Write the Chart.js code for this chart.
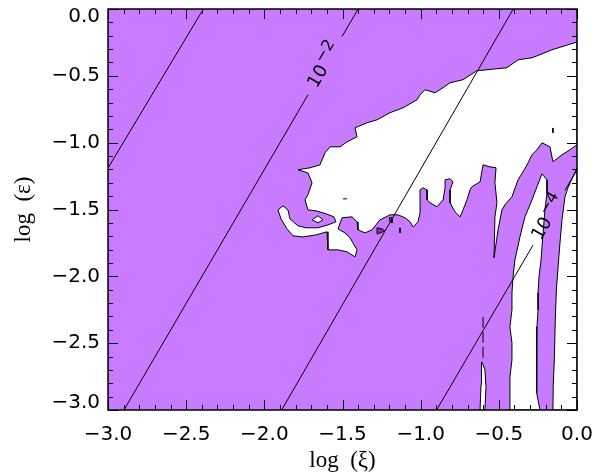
<!DOCTYPE html>
<html>
<head>
<meta charset="utf-8">
<script src="https://cdn.jsdelivr.net/npm/chart.js@4.4.1/dist/chart.umd.min.js"></script>
<style>
  html, body { margin: 0; padding: 0; background: #fff; }
</style>
</head>
<body>
<canvas id="c" width="595" height="476"></canvas>
<script>
// axis ticks
const xMajor = [-3.0, -2.5, -2.0, -1.5, -1.0, -0.5, 0.0];
const xLabels = ['\u22123.0', '\u22122.5', '\u22122.0', '\u22121.5', '\u22121.0', '\u22120.5', '0.0'];
const yMajor = [0.0, -0.5, -1.0, -1.5, -2.0, -2.5, -3.0];
const yLabels = ['0.0', '\u22120.5', '\u22121.0', '\u22121.5', '\u22122.0', '\u22122.5', '\u22123.0'];

// filled level (purple) covers the whole domain
const fullArea = [[-3, -3], [-3, 0], [0, 0], [0, -3]];

// white regions (below level), [log xi, log eps]
const whiteMain = [
  [0, -0.245], [-0.013, -0.252], [-0.160, -0.305], [-0.237, -0.342], [-0.288, -0.365], [-0.377, -0.380],
  [-0.448, -0.439], [-0.512, -0.447], [-0.640, -0.462], [-0.729, -0.529], [-0.812, -0.552], [-0.857, -0.589],
  [-0.908, -0.627], [-0.972, -0.604], [-1.004, -0.642], [-1.023, -0.679], [-1.113, -0.739], [-1.196, -0.776],
  [-1.279, -0.829], [-1.343, -0.851], [-1.420, -0.889], [-1.407, -0.956], [-1.471, -0.994], [-1.516, -1.031],
  [-1.580, -1.031], [-1.612, -1.076], [-1.644, -1.166], [-1.708, -1.188], [-1.785, -1.203], [-1.721, -1.226],
  [-1.695, -1.300], [-1.721, -1.390], [-1.740, -1.427], [-1.721, -1.503],
  [-1.670, -1.510], [-1.606, -1.532], [-1.555, -1.555], [-1.542, -1.592], [-1.593, -1.615], [-1.657, -1.637],
  [-1.734, -1.637], [-1.785, -1.622],
  [-1.836, -1.570], [-1.849, -1.503], [-1.881, -1.473], [-1.913, -1.503], [-1.893, -1.570], [-1.855, -1.645],
  [-1.817, -1.697], [-1.753, -1.705], [-1.670, -1.690], [-1.599, -1.667], [-1.593, -1.735], [-1.593, -1.802],
  [-1.529, -1.802], [-1.471, -1.817], [-1.420, -1.854], [-1.407, -1.802], [-1.452, -1.712], [-1.484, -1.675],
  [-1.529, -1.645], [-1.503, -1.562], [-1.439, -1.555], [-1.407, -1.592], [-1.401, -1.652], [-1.356, -1.675],
  [-1.311, -1.652], [-1.260, -1.577], [-1.196, -1.540], [-1.145, -1.540], [-1.100, -1.562], [-1.068, -1.592],
  [-1.049, -1.630], [-1.017, -1.592], [-1.004, -1.525], [-1.004, -1.353], [-0.985, -1.338], [-0.959, -1.353],
  [-0.959, -1.428], [-0.940, -1.450], [-0.895, -1.480], [-0.857, -1.428], [-0.844, -1.338], [-0.844, -1.278],
  [-0.812, -1.270], [-0.793, -1.293], [-0.812, -1.353], [-0.812, -1.450], [-0.780, -1.518], [-0.748, -1.555],
  [-0.729, -1.503], [-0.704, -1.428], [-0.684, -1.353], [-0.672, -1.330], [-0.620, -1.293], [-0.601, -1.166],
  [-0.557, -1.181], [-0.518, -1.188], [-0.525, -1.300], [-0.512, -1.450], [-0.525, -1.555], [-0.531, -1.862],
  [-0.505, -1.652], [-0.480, -1.502], [-0.461, -1.465], [-0.416, -1.405], [-0.377, -1.278], [-0.345, -1.218],
  [-0.313, -1.151], [-0.288, -1.091], [-0.256, -1.053], [-0.224, -1.001], [-0.173, -1.031], [-0.154, -1.143],
  [-0.096, -1.091], [-0.045, -1.053], [0, -1.016],
];
const whiteStrip = [
  [-0.224, -1.233], [-0.192, -1.278], [-0.192, -1.375], [-0.205, -1.503], [-0.217, -1.675], [-0.230, -1.877],
  [-0.243, -2.004], [-0.249, -2.124], [-0.249, -2.251], [-0.256, -2.378], [-0.256, -2.498], [-0.256, -2.625],
  [-0.262, -2.872], [-0.237, -3.0], [-0.429, -3.0], [-0.429, -2.753], [-0.416, -2.625], [-0.416, -2.498],
  [-0.429, -2.378], [-0.416, -2.251], [-0.416, -2.124], [-0.409, -2.004], [-0.397, -1.877], [-0.365, -1.705],
  [-0.333, -1.555], [-0.288, -1.428], [-0.256, -1.330],
];
const whiteRight = [
  [0, -1.188], [-0.058, -1.338], [-0.077, -1.405], [-0.096, -1.577], [-0.109, -1.750], [-0.120, -1.914],
  [-0.132, -2.101], [-0.139, -2.326], [-0.145, -2.625], [-0.152, -2.812], [-0.154, -3.0], [0, -3.0],
];
const whiteSliver = [
  [-0.608, -2.640], [-0.589, -2.700], [-0.582, -2.827], [-0.589, -3.0], [-0.620, -3.0], [-0.614, -2.812], [-0.614, -2.700],
];
const whiteDiamond = [[-1.695, -1.577], [-1.657, -1.547], [-1.625, -1.577], [-1.657, -1.600]];

// small higher-level patches
const darkA = [[-1.279, -1.637], [-1.247, -1.645], [-1.228, -1.660], [-1.273, -1.682]];
const darkB = [[-1.202, -1.562], [-1.183, -1.562], [-1.183, -1.600], [-1.196, -1.592]];
const specks = [
  [[-1.497, -1.420], [-1.471, -1.420]],
  [[-0.154, -0.890], [-0.154, -0.926]],
  [[-1.132, -1.637], [-1.132, -1.675]],
];
const sliverDash = [[-0.601, -2.303], [-0.601, -2.625]];

// straight contour lines (eps ~ xi^2), split where labelled
const lineA1 = [[-3.0, -1.19], [-2.39, 0]];
const lineA2lo = [[-2.898, -3.0], [-1.721, -0.642]];
const lineA2hi = [[-1.503, -0.206], [-1.400, 0]];
const lineB = [[-1.889, -3.0], [-0.408, 0]];
const lineClo = [[-0.898, -3.0], [-0.2815, -1.767]];
const lineChi = [[-0.077, -1.357], [0, -1.204]];

// line labels
const labelX = [-1.612, -0.179];
const labelY = [-0.424, -1.562];
const labelExp = ['\u22122', '\u22124'];

const PURPLE = '#c87bff';
const toXY = (pts) => pts.map(([x, y]) => ({ x, y }));

function poly(pts, color, order, bw = 1) {
  return {
    data: toXY([...pts, pts[0]]), showLine: true, fill: 'shape',
    backgroundColor: color, borderColor: '#000', borderWidth: bw,
    pointRadius: 0, tension: 0, order,
  };
}
function seg(pts, order, dash) {
  return {
    data: toXY(pts), showLine: true, fill: false,
    borderColor: '#000', borderWidth: 1, borderDash: dash || [],
    pointRadius: 0, tension: 0, order,
  };
}

const datasets = [
  poly(fullArea, PURPLE, 100, 0),
  poly(whiteMain, '#fff', 50),
  poly(whiteStrip, '#fff', 50),
  poly(whiteRight, '#fff', 50),
  poly(whiteSliver, '#fff', 50),
  poly(whiteDiamond, '#fff', 45),
  poly(darkA, '#8e2a9e', 40),
  poly(darkB, '#8e2a9e', 40),
  ...specks.map((s) => seg(s, 30)),
  seg(sliverDash, 30, [11, 4]),
  seg(lineA1, 10), seg(lineA2lo, 10), seg(lineA2hi, 10),
  seg(lineB, 10), seg(lineClo, 10), seg(lineChi, 10),
];

const isMajor = (v, arr) => arr.findIndex((m) => Math.abs(m - v) < 1e-6);

// frame, inward ticks, y labels, line labels
const frame = {
  id: 'frame',
  afterDatasetsDraw(chart) {
    const { ctx, chartArea: a, scales: { x, y } } = chart;
    ctx.save();
    ctx.strokeStyle = '#000';
    ctx.lineWidth = 1;
    ctx.beginPath();
    x.ticks.forEach((t) => {
      const len = isMajor(t.value, xMajor) >= 0 ? 10 : 5;
      const px = Math.round(x.getPixelForValue(t.value)) + 0.5;
      ctx.moveTo(px, a.bottom); ctx.lineTo(px, a.bottom - len);
      ctx.moveTo(px, a.top); ctx.lineTo(px, a.top + len);
    });
    y.ticks.forEach((t) => {
      const len = isMajor(t.value, yMajor) >= 0 ? 10 : 5;
      const py = Math.round(y.getPixelForValue(t.value)) + 0.5;
      ctx.moveTo(a.left, py); ctx.lineTo(a.left + len, py);
      ctx.moveTo(a.right, py); ctx.lineTo(a.right - len, py);
    });
    ctx.stroke();
    ctx.lineWidth = 1.5;
    ctx.strokeRect(a.left, a.top, a.right - a.left, a.bottom - a.top);

    ctx.fillStyle = '#000';
    ctx.font = '20px "DejaVu Sans"';
    ctx.textAlign = 'right';
    ctx.textBaseline = 'middle';
    yMajor.forEach((v, i) => {
      const py = Math.min(Math.max(y.getPixelForValue(v), a.top + 8), a.bottom - 7);
      ctx.fillText(yLabels[i], a.left - 8, py);
    });

    labelX.forEach((lx, i) => {
      const p0x = x.getPixelForValue(lx), p0y = y.getPixelForValue(labelY[i]);
      const ang = Math.atan2(y.getPixelForValue(labelY[i] + 0.2) - p0y, x.getPixelForValue(lx + 0.1) - p0x);
      ctx.save();
      ctx.translate(p0x, p0y);
      ctx.rotate(ang);
      ctx.textAlign = 'left';
      ctx.font = '18px "DejaVu Sans"';
      const w1 = ctx.measureText('10').width;
      ctx.font = '16px "DejaVu Sans"';
      const w2 = ctx.measureText(labelExp[i]).width;
      const s = -(w1 + 2 + w2) / 2;
      ctx.font = '18px "DejaVu Sans"';
      ctx.fillText('10', s, 0);
      ctx.font = '16px "DejaVu Sans"';
      ctx.fillText(labelExp[i], s + w1 + 2, -7);
      ctx.restore();
    });
    ctx.restore();
  },
};

new Chart(document.getElementById('c'), {
  type: 'scatter',
  data: { datasets },
  plugins: [frame],
  options: {
    responsive: false, animation: false, devicePixelRatio: 1,
    layout: { padding: { top: 9, right: 18, left: 0, bottom: 0 } },
    plugins: { legend: { display: false }, tooltip: { enabled: false } },
    scales: {
      x: {
        type: 'linear', min: -3, max: 0,
        afterFit: (s) => { s.height = 66; s.paddingLeft = 0; s.paddingRight = 0; },
        grid: { display: false, drawTicks: false }, border: { display: false },
        ticks: {
          stepSize: 0.1, autoSkip: false, maxRotation: 0, padding: 13, color: '#000',
          font: { family: 'DejaVu Sans', size: 20 },
          callback: (v) => { const i = isMajor(v, xMajor); return i >= 0 ? xLabels[i] : ''; },
        },
        title: { display: true, text: 'log  (\u03be)', color: '#000', font: { family: 'Liberation Serif', size: 23 }, padding: { top: 0, bottom: 1 } },
      },
      y: {
        type: 'linear', min: -3, max: 0,
        afterFit: (s) => { s.width = 108; s.paddingTop = 0; s.paddingBottom = 0; },
        grid: { display: false, drawTicks: false }, border: { display: false },
        ticks: { display: false, stepSize: 0.1 },
        title: { display: true, text: 'log  (\u03b5)', color: '#000', font: { family: 'Liberation Serif', size: 23 }, padding: { top: 10, bottom: 0 } },
      },
    },
  },
});
</script>
</body>
</html>
